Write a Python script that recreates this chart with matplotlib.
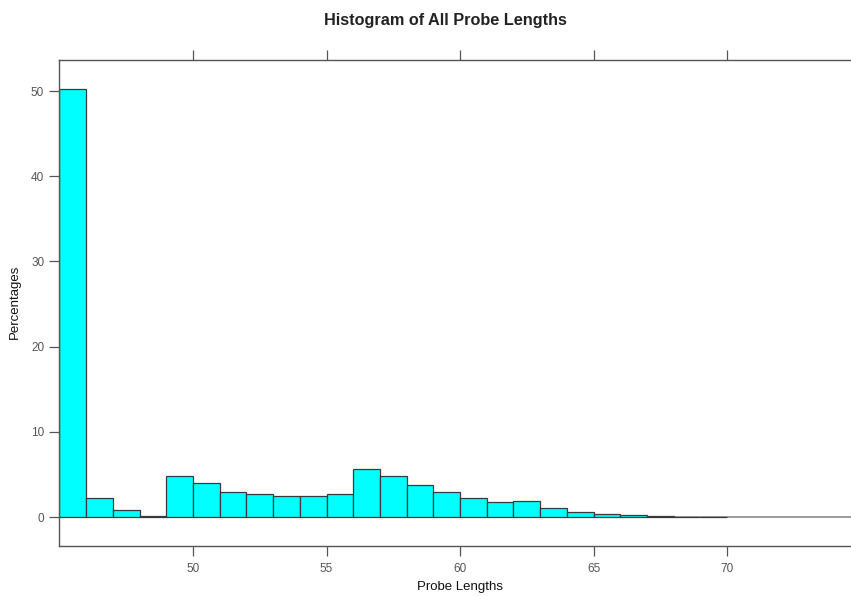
import matplotlib.pyplot as plt
import numpy as np

plt.rcParams['font.family'] = ['Liberation Sans', 'DejaVu Sans']

# bin edges (probe length) and percentage per bin
bin_edges = np.arange(45, 71, 1)
percentages = [50.2, 2.2, 0.8, 0.15, 4.85, 3.95, 2.97, 2.66, 2.43, 2.5,
               2.74, 5.6, 4.81, 3.72, 2.9, 2.27, 1.76, 1.84, 1.09, 0.62,
               0.35, 0.2, 0.08, 0.06, 0.05]
x_ticks = [50, 55, 60, 65, 70]
y_ticks = [0, 10, 20, 30, 40, 50]

W, H = 851, 596
fig = plt.figure(figsize=(W / 100, H / 100), dpi=100)
ax = fig.add_axes([59.5 / W, 50 / H, 1 - 59.5 / W, 486 / H])

ax.bar(bin_edges[:-1], percentages, width=np.diff(bin_edges), align='edge',
       color='#00FFFF', edgecolor='#3a3a3a', linewidth=0.9, zorder=2)
ax.axhline(0, color='#8a8a8a', linewidth=1.2, zorder=1)

ax.set_xlim(45, 74.64)
ax.set_ylim(-3.4, 53.64)
ax.set_xticks(x_ticks)
ax.set_yticks(y_ticks)
ax.tick_params(axis='x', top=True, direction='out', length=7, width=0.9,
               color='#555555', labelsize=8.5, labelcolor='#555555', pad=5)
ax.tick_params(axis='y', direction='out', length=7, width=0.9,
               color='#555555', labelsize=8.5, labelcolor='#555555', pad=4)
for side in ['left', 'top', 'bottom']:
    ax.spines[side].set_color('#555555')
    ax.spines[side].set_linewidth(1.0)
ax.spines['right'].set_visible(False)

# axis labels placed by hand so they stay inside the canvas
fig.text(460 / W, 1 - 587 / H, 'Probe Lengths', ha='center', va='center',
         fontsize=9.5, color='#111111')
fig.text(15 / W, 1 - 302 / H, 'Percentages', ha='center', va='center',
         rotation=90, fontsize=9.5, color='#111111')
fig.text(0.523, 0.965, 'Histogram of All Probe Lengths', ha='center',
         va='center', fontsize=11.7, fontweight='bold', color='#222222')

fig.savefig('out.png', dpi=100)
